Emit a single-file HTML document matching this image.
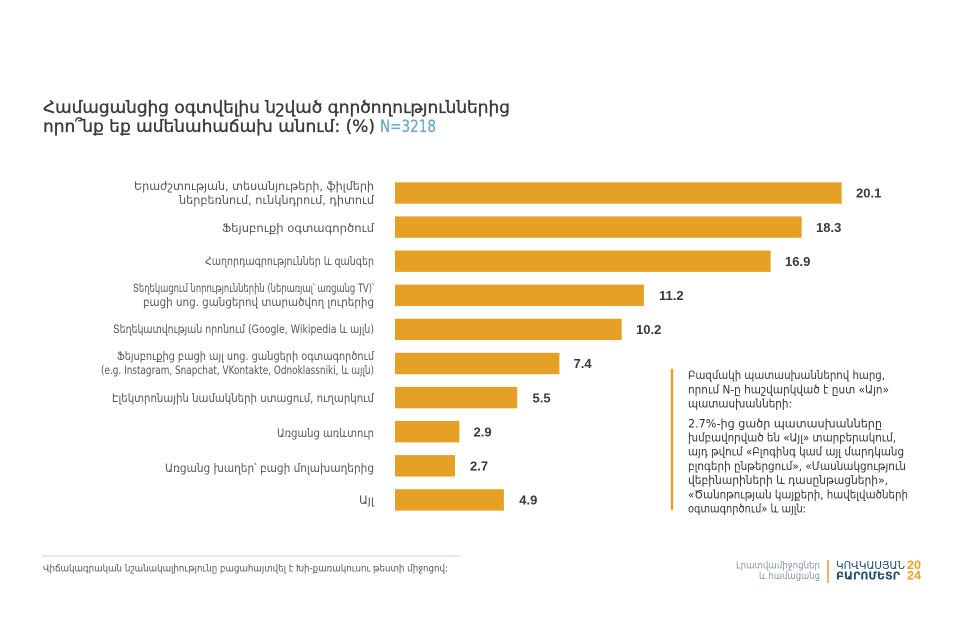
<!DOCTYPE html>
<html>
<head>
<meta charset="utf-8">
<style>
html,body{margin:0;padding:0;background:#fff;}
svg{display:block;}
.arm{font-family:"DejaVu Sans","Liberation Sans",sans-serif;}
.num{font-family:"Liberation Sans","DejaVu Sans",sans-serif;font-weight:bold;font-size:13px;fill:#3a3a3a;}
.cat{font-family:"DejaVu Sans","Liberation Sans",sans-serif;font-size:11.5px;fill:#555;}
.note{font-family:"DejaVu Sans","Liberation Sans",sans-serif;font-size:11.5px;fill:#333;}
.ttl{stroke:#3a3a3a;stroke-width:0.35px;}
</style>
</head>
<body>
<svg width="960" height="640" viewBox="0 0 960 640" xmlns="http://www.w3.org/2000/svg">
<rect width="960" height="640" fill="#fff"/>

<!-- Title -->
<text class="arm ttl" x="43" y="113" font-size="16.5" fill="#3a3a3a" textLength="467" lengthAdjust="spacingAndGlyphs">Համացանցից օգտվելիս նշված գործողություններից</text>
<text class="arm ttl" x="43" y="132" font-size="16.5" fill="#3a3a3a" textLength="332" lengthAdjust="spacingAndGlyphs">որո՞նք եք ամենահաճախ անում: (%)</text>
<text class="arm" x="380" y="132" font-size="16.5" fill="#6aa9cb" stroke="#6aa9cb" stroke-width="0.3" textLength="56" lengthAdjust="spacingAndGlyphs">N=3218</text>

<!-- Bars -->
<g fill="#e5a126">
<rect x="395" y="182.3" width="446.7" height="21.4"/>
<rect x="395" y="216.4" width="406.7" height="21.4"/>
<rect x="395" y="250.5" width="375.6" height="21.4"/>
<rect x="395" y="284.6" width="248.9" height="21.4"/>
<rect x="395" y="318.7" width="226.7" height="21.4"/>
<rect x="395" y="352.8" width="164.4" height="21.4"/>
<rect x="395" y="386.9" width="122.2" height="21.4"/>
<rect x="395" y="421.0" width="64.4" height="21.4"/>
<rect x="395" y="455.1" width="60.0" height="21.4"/>
<rect x="395" y="489.2" width="108.9" height="21.4"/>
</g>

<!-- Values -->
<text class="num" x="856" y="197.7">20.1</text>
<text class="num" x="816" y="231.8">18.3</text>
<text class="num" x="785" y="265.9">16.9</text>
<text class="num" x="659" y="300.0">11.2</text>
<text class="num" x="636" y="334.1">10.2</text>
<text class="num" x="573.5" y="368.2">7.4</text>
<text class="num" x="532.5" y="402.3">5.5</text>
<text class="num" x="473.5" y="436.4">2.9</text>
<text class="num" x="470" y="470.5">2.7</text>
<text class="num" x="519.3" y="504.6">4.9</text>

<!-- Category labels -->
<g text-anchor="end">
<text class="cat" x="374" y="190" textLength="240" lengthAdjust="spacingAndGlyphs">Երաժշտության, տեսանյութերի, ֆիլմերի</text>
<text class="cat" x="374" y="204" textLength="195" lengthAdjust="spacingAndGlyphs">ներբեռնում, ունկնդրում, դիտում</text>
<text class="cat" x="374" y="232" textLength="152" lengthAdjust="spacingAndGlyphs">Ֆեյսբուքի օգտագործում</text>
<text class="cat" x="374" y="265" textLength="169" lengthAdjust="spacingAndGlyphs">Հաղորդագրություններ և զանգեր</text>
<text class="cat" x="374" y="292" textLength="241" lengthAdjust="spacingAndGlyphs">Տեղեկացում նորություններին (ներառյալ՝ առցանց TV)՝</text>
<text class="cat" x="374" y="306" textLength="231" lengthAdjust="spacingAndGlyphs">բացի սոց. ցանցերով տարածվող լուրերից</text>
<text class="cat" x="374" y="333" textLength="261" lengthAdjust="spacingAndGlyphs">Տեղեկատվության որոնում (Google, Wikipedia և այլն)</text>
<text class="cat" x="374" y="360" textLength="257" lengthAdjust="spacingAndGlyphs">Ֆեյսբուքից բացի այլ սոց. ցանցերի օգտագործում</text>
<text class="cat" x="374" y="374" textLength="273" lengthAdjust="spacingAndGlyphs">(e.g. Instagram, Snapchat, VKontakte, Odnoklassniki, և այլն)</text>
<text class="cat" x="374" y="402" textLength="262" lengthAdjust="spacingAndGlyphs">Էլեկտրոնային նամակների ստացում, ուղարկում</text>
<text class="cat" x="374" y="437" textLength="97" lengthAdjust="spacingAndGlyphs">Առցանց առևտուր</text>
<text class="cat" x="374" y="472" textLength="209" lengthAdjust="spacingAndGlyphs">Առցանց խաղեր՝ բացի մոլախաղերից</text>
<text class="cat" x="374" y="504">Այլ</text>
</g>

<!-- Note -->
<rect x="670.8" y="369" width="2.4" height="141" fill="#e5a126"/>
<text class="note" x="688" y="379" textLength="197" lengthAdjust="spacingAndGlyphs">Բազմակի պատասխաններով հարց,</text>
<text class="note" x="688" y="393.3" textLength="201" lengthAdjust="spacingAndGlyphs">որում N-ը հաշվարկված է ըստ «Այո»</text>
<text class="note" x="688" y="407.3" textLength="104" lengthAdjust="spacingAndGlyphs">պատասխանների:</text>
<text class="note" x="688" y="427.3" textLength="194" lengthAdjust="spacingAndGlyphs">2.7%-ից ցածր պատասխանները</text>
<text class="note" x="688" y="441.7" textLength="208" lengthAdjust="spacingAndGlyphs">խմբավորված են «Այլ» տարբերակում,</text>
<text class="note" x="688" y="455.7" textLength="216" lengthAdjust="spacingAndGlyphs">այդ թվում «Բլոգինգ կամ այլ մարդկանց</text>
<text class="note" x="688" y="470" textLength="218" lengthAdjust="spacingAndGlyphs">բլոգերի ընթերցում», «Մասնակցություն</text>
<text class="note" x="688" y="484" textLength="200" lengthAdjust="spacingAndGlyphs">վեբինարիների և դասընթացների»,</text>
<text class="note" x="688" y="498.3" textLength="220" lengthAdjust="spacingAndGlyphs">«Ծանոթության կայքերի, հավելվածների</text>
<text class="note" x="688" y="512.3" textLength="118" lengthAdjust="spacingAndGlyphs">օգտագործում» և այլն:</text>

<!-- Footer -->
<rect x="42" y="555.5" width="418" height="1" fill="#c9dcb5"/>
<text class="arm" x="43" y="571.5" font-size="10" fill="#555" textLength="405" lengthAdjust="spacingAndGlyphs">Վիճակագրական նշանակալիությունը բացահայտվել է Խի-քառակուսու թեստի միջոցով:</text>

<!-- Logo -->
<text class="arm" x="820" y="568.5" font-size="9.5" fill="#8595a5" text-anchor="end" textLength="84" lengthAdjust="spacingAndGlyphs">Լրատվամիջոցներ</text>
<text class="arm" x="820" y="579" font-size="9.5" fill="#8595a5" text-anchor="end" textLength="61" lengthAdjust="spacingAndGlyphs">և համացանց</text>
<rect x="827.3" y="560" width="1.5" height="23" fill="#e5a126"/>
<text class="arm" x="836" y="569" font-size="11" fill="#1d4b6b" textLength="69" lengthAdjust="spacingAndGlyphs">ԿՈՎԿԱՍՅԱՆ</text>
<text x="907" y="569" font-family="Liberation Sans, sans-serif" font-weight="bold" font-size="11.5" fill="#e8a21f" textLength="14" lengthAdjust="spacingAndGlyphs">20</text>
<text class="arm" x="836" y="579.5" font-size="11" font-weight="bold" fill="#1d4b6b" textLength="64" lengthAdjust="spacingAndGlyphs">ԲԱՐՈՄԵՏՐ</text>
<text x="907" y="579.5" font-family="Liberation Sans, sans-serif" font-weight="bold" font-size="11.5" fill="#e8a21f" textLength="14" lengthAdjust="spacingAndGlyphs">24</text>
</svg>
</body>
</html>
